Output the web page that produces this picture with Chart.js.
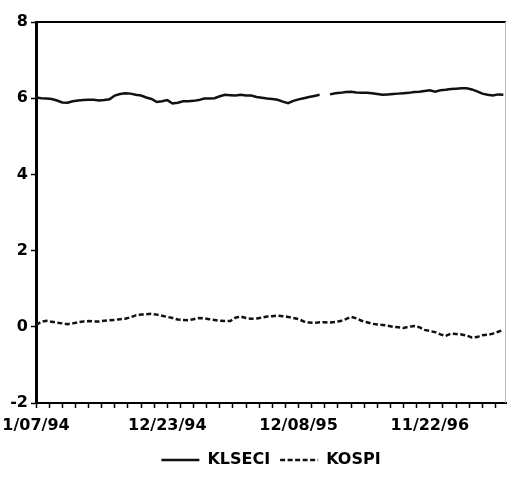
<!DOCTYPE html>
<html>
<head>
<meta charset="utf-8">
<script src="https://cdn.jsdelivr.net/npm/chart.js@4.4.0/dist/chart.umd.min.js"></script>
<style>
  html, body { margin: 0; padding: 0; background: #fff; }
  #wrap { width: 507px; height: 478px; }
</style>
</head>
<body>
<div id="wrap"><canvas id="lineChart"></canvas></div>
<script>
// values, one every second week from 1/07/94
const klseci = [
  6.02, 6.00, 5.99, 5.98, 5.94, 5.89, 5.88, 5.92, 5.94, 5.95,
  5.96, 5.96, 5.94, 5.95, 5.97, 6.07, 6.11, 6.13, 6.12, 6.09,
  6.07, 6.02, 5.98, 5.90, 5.92, 5.95, 5.86, 5.88, 5.92, 5.92,
  5.93, 5.95, 5.99, 5.99, 6.00, 6.05, 6.09, 6.08, 6.07, 6.09,
  6.07, 6.07, 6.03, 6.01, 5.99, 5.98, 5.96, 5.91, 5.87, 5.93,
  5.97, 6.00, 6.03, 6.06, 6.09, null, 6.10, 6.13, 6.14, 6.16,
  6.17, 6.15, 6.14, 6.14, 6.13, 6.11, 6.09, 6.10, 6.11, 6.12,
  6.13, 6.14, 6.16, 6.17, 6.19, 6.21, 6.17, 6.21, 6.22, 6.24,
  6.25, 6.26, 6.26, 6.23, 6.18, 6.12, 6.09, 6.07, 6.10, 6.09
];
const kospi = [
  0.05, 0.13, 0.16, 0.13, 0.11, 0.09, 0.07, 0.09, 0.12, 0.14,
  0.15, 0.14, 0.14, 0.16, 0.17, 0.18, 0.20, 0.21, 0.25, 0.30,
  0.32, 0.33, 0.34, 0.32, 0.29, 0.26, 0.23, 0.19, 0.18, 0.17,
  0.20, 0.23, 0.22, 0.20, 0.18, 0.16, 0.15, 0.15, 0.24, 0.27,
  0.23, 0.21, 0.22, 0.24, 0.27, 0.28, 0.29, 0.28, 0.26, 0.23,
  0.20, 0.14, 0.11, 0.10, 0.12, 0.12, 0.11, 0.13, 0.15, 0.20,
  0.26, 0.22, 0.16, 0.12, 0.08, 0.06, 0.05, 0.03, 0.00, -0.01,
  -0.03, 0.00, 0.02, -0.01, -0.08, -0.11, -0.14, -0.20, -0.24, -0.18,
  -0.19, -0.20, -0.23, -0.28, -0.27, -0.22, -0.21, -0.18, -0.13, -0.08
];
const weeks = klseci.map((v, i) => i * 2);
const tickWeeks = [0, 50, 100, 150];
const tickLabels = ["1/07/94", "12/23/94", "12/08/95", "11/22/96"];

Chart.defaults.font.family = "DejaVu Sans";
Chart.defaults.font.weight = "bold";
Chart.defaults.font.size = 16;
Chart.defaults.color = "#000";

// top and right edge of the plot box
const frame = {
  id: "frame",
  afterDraw(chart) {
    const a = chart.chartArea;
    const ctx = chart.ctx;
    ctx.save();
    ctx.strokeStyle = "#000";
    ctx.lineWidth = 2;
    ctx.beginPath();
    ctx.moveTo(a.left, a.top);
    ctx.lineTo(a.right, a.top);
    ctx.stroke();
    ctx.strokeStyle = "#bbb";
    ctx.lineWidth = 1;
    ctx.beginPath();
    ctx.moveTo(a.right - 0.5, a.top);
    ctx.lineTo(a.right - 0.5, a.bottom);
    ctx.stroke();
    ctx.restore();
  }
};

let chart1 = new Chart(document.getElementById("lineChart"), {
  type: "line",
  data: {
    datasets: [
      {
        label: "KLSECI",
        data: weeks.map((w, i) => ({ x: w, y: klseci[i] })),
        borderColor: "#111",
        borderWidth: 2.5,
        pointRadius: 0,
        pointStyle: "line",
        tension: 0
      },
      {
        label: "KOSPI",
        data: weeks.map((w, i) => ({ x: w, y: kospi[i] })),
        borderColor: "#111",
        borderWidth: 2.5,
        borderDash: [5, 2.5],
        pointRadius: 0,
        pointStyle: "line",
        tension: 0
      }
    ]
  },
  options: {
    responsive: true,
    maintainAspectRatio: false,
    animation: false,
    layout: { padding: { top: 22, right: 1, bottom: 0, left: 0 } },
    plugins: {
      tooltip: { enabled: false },
      legend: {
        position: "bottom",
        fullSize: false,
        labels: {
          usePointStyle: true,
          pointStyle: "line",
          pointStyleWidth: 38,
          padding: 10,
          // point style legend drops the dash, put it back
          generateLabels: (chart) =>
            Chart.defaults.plugins.legend.labels.generateLabels(chart).map((item, i) => ({
              ...item,
              lineDash: chart.data.datasets[i].borderDash || []
            }))
        }
      }
    },
    scales: {
      x: {
        type: "linear",
        min: 0,
        max: 179,
        ticks: {
          stepSize: 5,
          autoSkip: false,
          includeBounds: false,
          maxRotation: 0,
          padding: 8,
          callback: (v) => {
            const k = tickWeeks.indexOf(v);
            return k >= 0 ? tickLabels[k] : "";
          }
        },
        grid: { drawOnChartArea: false, tickLength: 5, tickWidth: 1.5, tickColor: "#000" },
        border: { color: "#000", width: 2 },
        afterFit(s) { s.height = 39; s.paddingLeft = 0; s.paddingRight = 0; }
      },
      y: {
        min: -2,
        max: 8,
        ticks: { stepSize: 2, padding: 3 },
        grid: { drawOnChartArea: false, tickLength: 5, tickWidth: 1.5, tickColor: "#000" },
        border: { color: "#000", width: 3 },
        afterFit(s) { s.width = 36; }
      }
    }
  },
  plugins: [frame]
});
</script>
</body>
</html>
